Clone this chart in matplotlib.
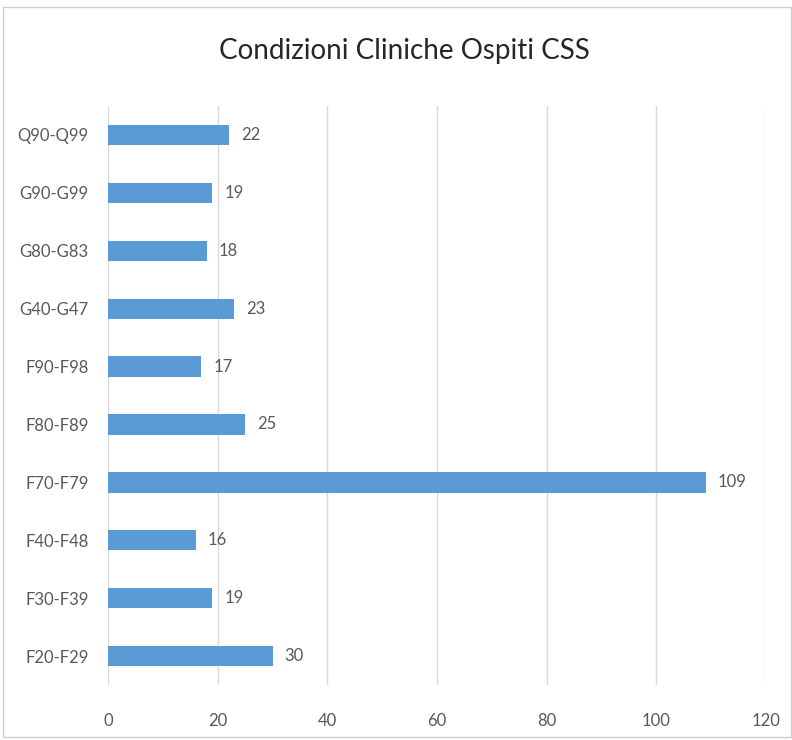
import matplotlib.pyplot as plt
from matplotlib.patches import Rectangle

# categories listed bottom to top
categories = ["F20-F29", "F30-F39", "F40-F48", "F70-F79", "F80-F89",
              "F90-F98", "G40-G47", "G80-G83", "G90-G99", "Q90-Q99"]
values = [30, 19, 16, 109, 25, 17, 23, 18, 19, 22]
xticks = [0, 20, 40, 60, 80, 100, 120]

plt.rcParams['font.family'] = ['Lato', 'DejaVu Sans']

fig = plt.figure(figsize=(7.92, 7.40), dpi=100)
ax = fig.add_axes([0.1364, 0.0743, 0.8308, 0.7824])

ypos = range(len(categories))
ax.barh(ypos, values, height=0.35, color="#5B9BD5", zorder=3)
for y, v in zip(ypos, values):
    ax.text(v + 2.2, y, str(v), va="center", ha="left", fontsize=12, color="#595959")

ax.set_xlim(0, 120)
ax.set_ylim(-0.5, len(categories) - 0.5)
ax.set_xticks(xticks)
ax.set_yticks(list(ypos))
ax.set_yticklabels(categories)
ax.tick_params(axis="both", length=0, labelsize=12, colors="#595959")
ax.tick_params(axis="x", pad=20)
ax.tick_params(axis="y", pad=14)
ax.grid(axis="x", color="#D9D9D9", linewidth=1, zorder=0)
for s in ax.spines.values():
    s.set_visible(False)

fig.text(0.51, 0.931, "Condizioni Cliniche Ospiti CSS", ha="center", va="center",
         fontsize=20, color="#262626")

# outer chart frame
fig.patches.append(Rectangle((3 / 792, 3 / 740), 788 / 792, 730 / 740, transform=fig.transFigure,
                             fill=False, edgecolor="#D0D0D0", linewidth=1))

fig.savefig("out.png", dpi=100)
